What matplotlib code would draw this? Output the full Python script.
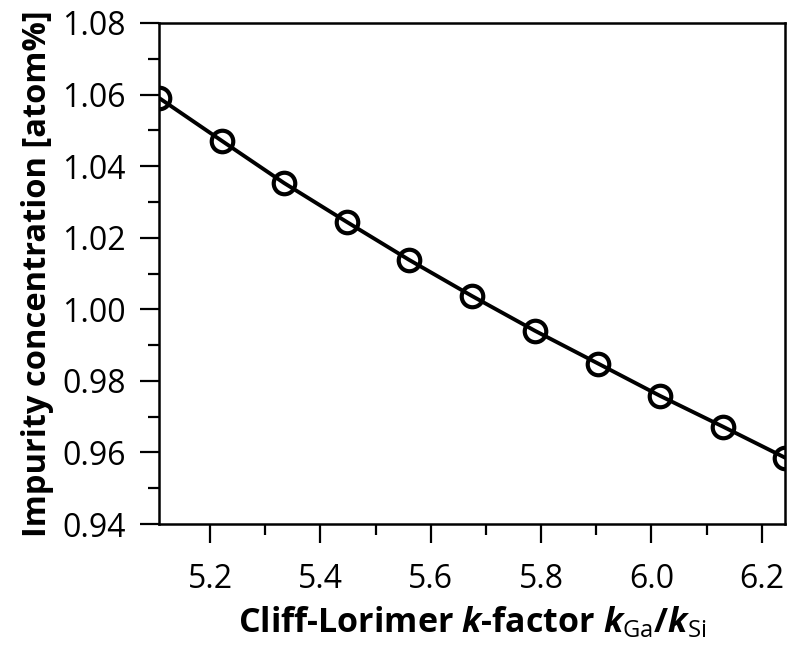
import matplotlib
matplotlib.use("Agg")
import matplotlib.pyplot as plt
from matplotlib.ticker import MultipleLocator

# k-factor values and impurity concentration
k_factor = [5.108, 5.222, 5.334, 5.448, 5.561, 5.675, 5.789, 5.904, 6.016, 6.130, 6.243]
concentration = [1.059, 1.047, 1.0353, 1.0244, 1.0138, 1.0037, 0.9940, 0.9848, 0.9758, 0.9672, 0.9585]

plt.rcParams['font.family'] = 'Open Sans'
plt.rcParams['mathtext.fontset'] = 'custom'
plt.rcParams['mathtext.rm'] = 'Open Sans'
plt.rcParams['mathtext.it'] = 'Open Sans:bold:italic'
plt.rcParams['mathtext.bf'] = 'Open Sans:bold'

fig = plt.figure(figsize=(7.92, 6.47), dpi=100)
ax = fig.add_axes([0.2008, 0.190, 0.790, 0.7745])

ax.plot(k_factor, concentration, color='black', lw=2.8, marker='o',
        markersize=15.5, markerfacecolor='none', markeredgewidth=3)

ax.set_xlim(5.1075, 6.2417)
ax.set_ylim(0.94, 1.08)
ax.xaxis.set_major_locator(MultipleLocator(0.2))
ax.xaxis.set_minor_locator(MultipleLocator(0.1))
ax.yaxis.set_major_locator(MultipleLocator(0.02))
ax.yaxis.set_minor_locator(MultipleLocator(0.01))
ax.yaxis.set_major_formatter(plt.FormatStrFormatter('%.2f'))
ax.xaxis.set_major_formatter(plt.FormatStrFormatter('%.1f'))

ax.tick_params(which='major', direction='out', length=14, width=1.6, labelsize=23)
ax.tick_params(axis='x', which='major', pad=14)
ax.tick_params(axis='y', which='major', pad=10)
ax.tick_params(which='minor', direction='out', length=8, width=1.6)
for s in ax.spines.values():
    s.set_linewidth(1.8)

ax.set_xlabel(r"Cliff-Lorimer $k$-factor $k_{\mathrm{Ga}}\mathbf{/}k_{\mathrm{Si}}$",
              fontsize=24.5, fontweight='bold', labelpad=6)
ax.set_ylabel("Impurity concentration [atom%]", fontsize=23.5, fontweight='bold', labelpad=6)

plt.savefig("out.png", dpi=100)
plt.close()
